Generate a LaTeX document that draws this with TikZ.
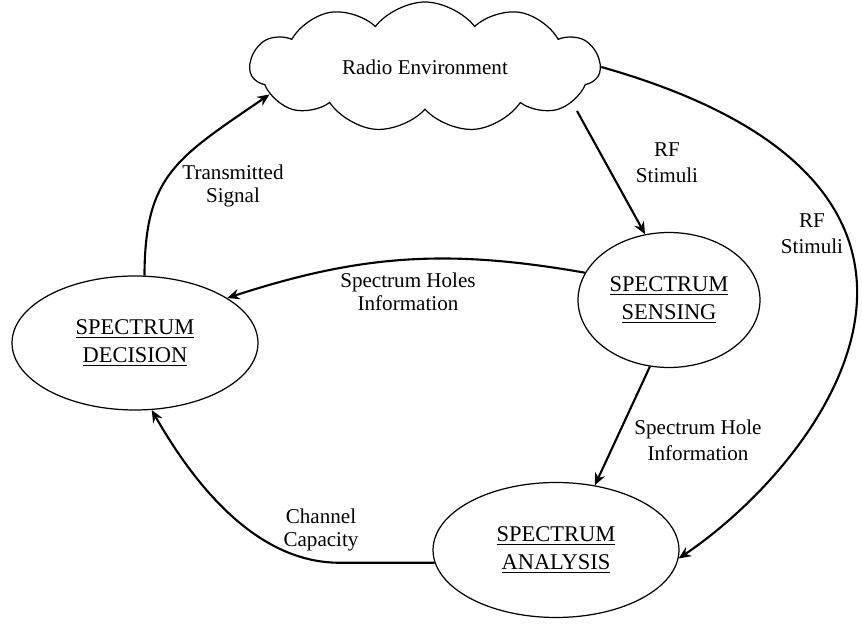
\documentclass[tikz,border=0pt]{standalone}
\usepackage{fontspec}
\setmainfont{Liberation Serif}
\usetikzlibrary{shapes.geometric,shapes.symbols,arrows.meta}
\tikzset{
  stage/.style={draw, ellipse, line width=0.7pt, inner sep=0pt, align=center, font=\fontsize{12.8}{16}\selectfont},
  sky/.style={draw, cloud, cloud puffs=11, cloud puff arc=105, aspect=2.8, line width=0.7pt, minimum width=7.0cm, minimum height=2.6cm, inner sep=0pt, font=\fontsize{12}{14}\selectfont},
  flow/.style={-{Stealth[length=7pt,width=6pt]}, line width=1.2pt},
  tag/.style={align=center, inner sep=0pt, font=\fontsize{12}{13}\selectfont},
  widetag/.style={tag, font=\fontsize{12}{15}\selectfont}
}

\begin{document}
\begin{tikzpicture}[x=0.02cm, y=0.02cm]
  \useasboundingbox (0,0) rectangle (862,624);
  % blocks
  \node[sky] (env) at (425,557) {Radio Environment};
  \node[stage, minimum width=4.92cm, minimum height=2.68cm] (dec) at (135,281) {\underline{SPECTRUM}\\\underline{DECISION}};
  \node[stage, minimum width=3.64cm, minimum height=2.70cm] (sen) at (669,324) {\underline{SPECTRUM}\\\underline{SENSING}};
  \node[stage, minimum width=4.92cm, minimum height=2.70cm] (ana) at (556, 74) {\underline{SPECTRUM}\\\underline{ANALYSIS}};
  % arrows
  \draw[flow] (dec.82)  .. controls (145,448) and (175,465) .. (env.190);
  \draw[flow] ([shift={(152,-44)}]env.center) -- (sen.110);
  \draw[flow] (env.east) .. controls (1022,438) and (830,168) .. (ana.-4);
  \draw[flow] (sen.162) to[bend right=14] (dec.26);
  \draw[flow] (sen.254) -- (ana.59);
  \draw[flow] (ana.186) -- ++(-95,0) .. controls +(-80,0) and (198,133) .. (dec.284);
  % labels
  \node[tag]     (tsig)  at (233,438) {Transmitted\\Signal};
  \node[widetag] (rfa)   at (667,461) {RF\\Stimuli};
  \node[widetag] (rfb)   at (812,390) {RF\\Stimuli};
  \node[tag]     (holes) at (408,332) {Spectrum Holes\\Information};
  \node[widetag] (hole)  at (698,184) {Spectrum Hole\\Information};
  \node[tag]     (cap)   at (321, 94) {Channel\\Capacity};
\end{tikzpicture}
\end{document}
